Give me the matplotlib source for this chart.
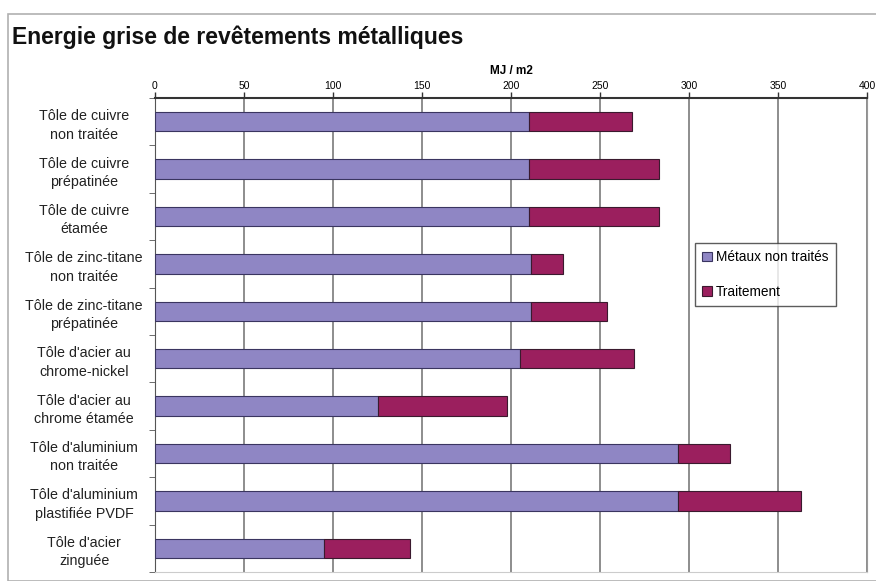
import matplotlib.pyplot as plt
import numpy as np
from matplotlib.patches import Rectangle

plt.rcParams['font.family'] = ['Liberation Sans', 'DejaVu Sans']

categories = ["Tôle de cuivre\nnon traitée",
              "Tôle de cuivre\nprépatinée",
              "Tôle de cuivre\nétamée",
              "Tôle de zinc-titane\nnon traitée",
              "Tôle de zinc-titane\nprépatinée",
              "Tôle d'acier au\nchrome-nickel",
              "Tôle d'acier au\nchrome étamée",
              "Tôle d'aluminium\nnon traitée",
              "Tôle d'aluminium\nplastifiée PVDF",
              "Tôle d'acier\nzinguée"]
metaux = [210, 210, 210, 211, 211, 205, 125, 294, 294, 95]
traitement = [58, 73, 73, 18, 43, 64, 73, 29, 69, 48]
xticks = [0, 50, 100, 150, 200, 250, 300, 350, 400]

fig = plt.figure(figsize=(8.76, 5.81), dpi=100)
fig.patches.append(Rectangle((8 / 876, 0), 1, 1 - 14 / 581, transform=fig.transFigure,
                             fill=False, edgecolor='#b0b0b0', linewidth=1.2))
fig.text(12 / 876, 1 - 37 / 581, "Energie grise de revêtements métalliques",
         fontsize=16.5, fontweight='bold', va='center', ha='left', color='#111111')

ax = fig.add_axes([155 / 876, 1 - 572 / 581, (867 - 155) / 876, (572 - 98) / 581])

y = np.arange(len(categories))
ax.barh(y, metaux, height=0.41, color='#8f86c4', edgecolor='#3a3560', linewidth=0.8,
        label='Métaux non traités', zorder=3)
ax.barh(y, traitement, left=metaux, height=0.41, color='#9b1f5e', edgecolor='#3a1a2e',
        linewidth=0.8, label='Traitement', zorder=3)

ax.set_xlim(0, 400)
ax.set_ylim(len(categories) - 0.5, -0.5)
ax.xaxis.tick_top()
ax.xaxis.set_label_position('top')
ax.set_xticks(xticks)
ax.tick_params(axis='x', labelsize=7.5, length=4, width=1, color='#333333', pad=1)
ax.set_xlabel("MJ / m2", fontsize=8.5, fontweight='bold', labelpad=5)
ax.grid(axis='x', color='#7a7a7a', linewidth=1.2, zorder=0)

ax.set_yticks(y)
ax.set_yticklabels(categories, fontsize=10.3, color='#222222', linespacing=1.4,
                   ha='center')
ax.set_yticks(np.arange(len(categories) + 1) - 0.5, minor=True)
ax.tick_params(axis='y', which='major', length=0, pad=51)
ax.tick_params(axis='y', which='minor', length=4, color='#555555')

ax.spines['top'].set_color('#333333')
ax.spines['top'].set_linewidth(1.5)
ax.spines['left'].set_color('#555555')
ax.spines['right'].set_color('#999999')
ax.spines['bottom'].set_color('#cccccc')

ax.legend(loc='upper left', bbox_to_anchor=((695 - 155) / 712, 1 - (243 - 98) / 474),
          fontsize=9.8, frameon=True, fancybox=False, edgecolor='#333333',
          handlelength=0.7, handleheight=0.7, handletextpad=0.3,
          labelspacing=1.5, borderpad=0.55, borderaxespad=0)

fig.savefig('out.png', dpi=100)
